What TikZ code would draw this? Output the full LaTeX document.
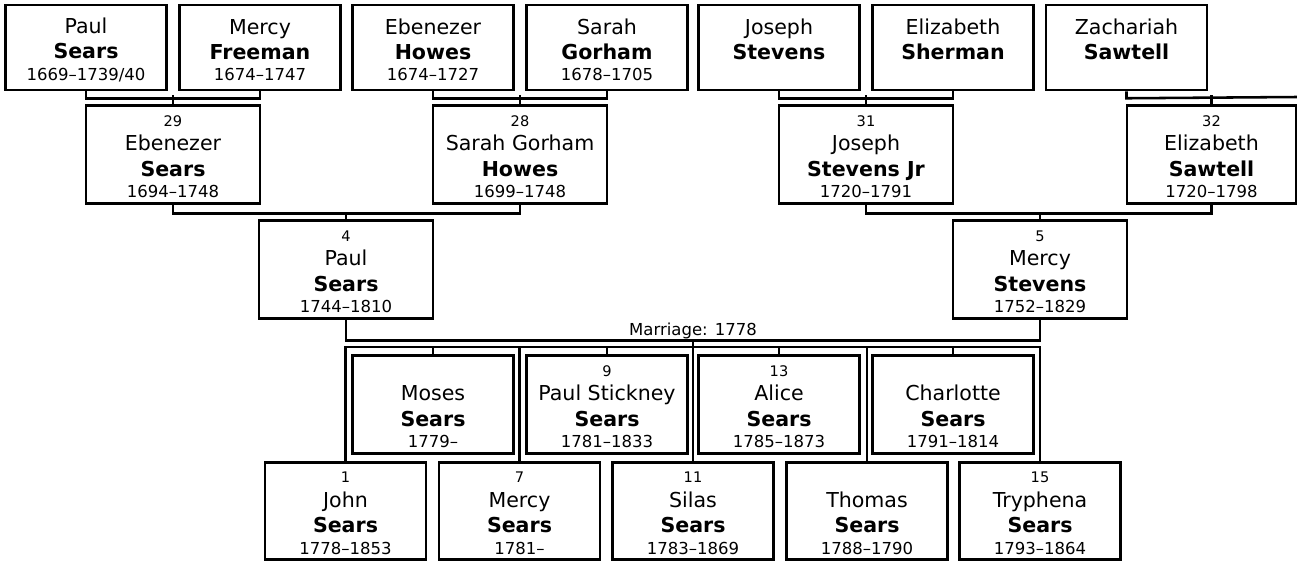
\documentclass[tikz,border=0pt]{standalone}
\usepackage{fontspec}
\setmainfont{DejaVu Sans}
\usetikzlibrary{positioning}
\newcommand{\sm}[1]{{\fontsize{9.4}{11}\selectfont #1\vphantom{0}}}
\newcommand{\nr}[1]{{\fontsize{8.3}{10}\selectfont\rule{0pt}{8.6pt}#1\vphantom{0}}}
\newcommand{\kin}[4]{\nr{#1}\\[-0.5pt]#2\\\textbf{#3}\\[-2.2pt]\sm{#4}}
\newcommand{\anc}[3]{\rule{0pt}{11.4pt}#1\\\textbf{#2}\\[-2.2pt]\sm{#3}}

\begin{document}
\begin{tikzpicture}[x=0.02cm,y=-0.02cm,
  box/.style={draw,line width=1.45pt,fill=white,inner sep=0pt,align=center,font=\fontsize{11.7}{14.4}\selectfont},
  ancbox/.style={box,minimum width=3.22cm,minimum height=1.7cm},
  midbox/.style={box,minimum width=3.48cm,minimum height=1.95cm},
  kidbox/.style={box,minimum width=3.22cm,minimum height=1.95cm},
  link/.style={line width=1.45pt}]
  \useasboundingbox (0,0) rectangle (1297,561);
  \node[ancbox] (paulSr)  at (86,47.5)   {\anc{Paul}{Sears}{1669–1739/40}};
  \node[ancbox] (mercyF)  at (260,47.5)  {\anc{Mercy}{Freeman}{1674–1747}};
  \node[ancbox] (ebenH)   at (433,47.5)  {\anc{Ebenezer}{Howes}{1674–1727}};
  \node[ancbox] (sarahG)  at (607,47.5)  {\anc{Sarah}{Gorham}{1678–1705}};
  \node[ancbox] (josephS) at (779,47.5)  {\anc{Joseph}{Stevens}{}};
  \node[ancbox] (elizSh)  at (953,47.5)  {\anc{Elizabeth}{Sherman}{}};
  \node[ancbox] (zachS)   at (1126.5,47.5) {\anc{Zachariah}{Sawtell}{}};
  \coordinate (zachSp) at (1297,97);

  \node[midbox] (ebenS)    at (173,154.5)  {\kin{29}{Ebenezer}{Sears}{1694–1748}};
  \node[midbox] (sarahH)   at (520,154.5)  {\kin{28}{Sarah Gorham}{Howes}{1699–1748}};
  \node[midbox] (josephJr) at (866,154.5)  {\kin{31}{Joseph}{Stevens Jr}{1720–1791}};
  \node[midbox,minimum width=3.38cm] (elizSa) at (1211.5,154.5) {\kin{32}{Elizabeth}{Sawtell}{1720–1798}};

  \node[midbox] (paul)   at (346,269.5)  {\kin{4}{Paul}{Sears}{1744–1810}};
  \node[midbox] (mercyS) at (1040,269.5) {\kin{5}{Mercy}{Stevens}{1752–1829}};

  \node[kidbox] (moses)     at (433,404.5) {\kin{}{Moses}{Sears}{1779–}};
  \node[kidbox] (paulSt)    at (607,404.5) {\kin{9}{Paul Stickney}{Sears}{1781–1833}};
  \node[kidbox] (alice)     at (779,404.5) {\kin{13}{Alice}{Sears}{1785–1873}};
  \node[kidbox] (charlotte) at (953,404.5) {\kin{}{Charlotte}{Sears}{1791–1814}};

  \node[kidbox] (john)     at (345.5,511) {\kin{1}{John}{Sears}{1778–1853}};
  \node[kidbox] (mercy)    at (519.5,511) {\kin{7}{Mercy}{Sears}{1781–}};
  \node[kidbox] (silas)    at (693,511)   {\kin{11}{Silas}{Sears}{1783–1869}};
  \node[kidbox] (thomas)   at (867,511)   {\kin{}{Thomas}{Sears}{1788–1790}};
  \node[kidbox] (tryphena) at (1040,511)  {\kin{15}{Tryphena}{Sears}{1793–1864}};

  \foreach \a/\b/\c/\d/\e in {paulSr/mercyF/ebenS/7/9, ebenH/sarahG/sarahH/7/9, josephS/elizSh/josephJr/7/9,
      ebenS/sarahH/paul/9/7, josephJr/elizSa/mercyS/9/7}
    {\draw[link] (\a.south) -- ++(0,\d) -| (\b.south);
     \draw[link] (\c.north) -- ++(0,-\e);}
  \draw[link] (zachS.south) -- ++(0,7) -- (zachSp);
  \draw[link] (elizSa.north) -- ++(0,-9);

  \draw[link] (paul.south) -- ++(0,21) -| node[pos=0.25,above,inner sep=0pt,font=\fontsize{9.4}{11}\selectfont] {Marriage: 1778} (mercyS.south);
  \draw[link] (silas.north) -- ++(0,-122);
  \draw[link] (john.north) -- ++(0,-114) -| (tryphena.north);
  \foreach \k in {mercy,thomas} \draw[link] (\k.north) -- ++(0,-114);
  \foreach \k in {moses,paulSt,alice,charlotte} \draw[link] (\k.north) -- ++(0,-8);
\end{tikzpicture}
\end{document}
